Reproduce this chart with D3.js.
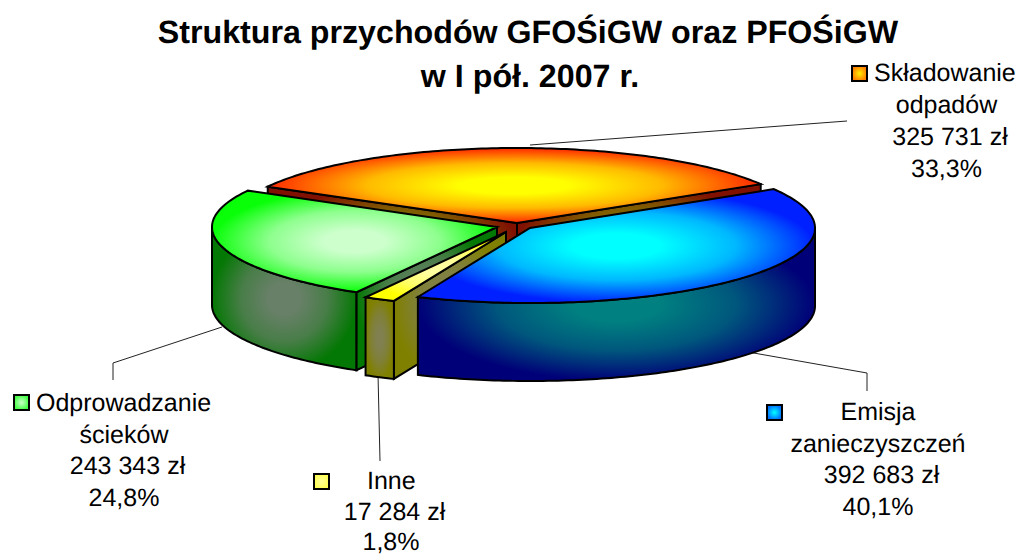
<!DOCTYPE html>
<html><head><meta charset="utf-8">
<script src="https://cdn.jsdelivr.net/npm/d3@7/dist/d3.min.js"></script>
<style>html,body{margin:0;background:#fff}svg{display:block}text{font-family:"Liberation Sans",Arial,sans-serif;fill:#000;text-rendering:geometricPrecision}</style>
</head><body><div id="c"></div>
<script>
const categories = ["Składowanie odpadów","Emisja zanieczyszczeń","Inne","Odprowadzanie ścieków"];
const values = [325731,392683,17284,243343];
const valueLabels = ["325 731 zł","392 683 zł","17 284 zł","243 343 zł"];
const percentLabels = ["33,3%","40,1%","1,8%","24,8%"];
const titleLines = ["Struktura przychodów GFOŚiGW oraz PFOŚiGW","w I pół. 2007 r."];

const W=1020,H=556, cx=517, cy=228, rx=285, ry=75, depth=78;
const rad=d=>d*Math.PI/180;
// per-slice explode offsets
const explode=[[0,-5],[13,0],[-11,4],[-20,-1]];
const topCols=[["#ffff00","#ff2800"],["#00ffff","#0020ff"],["#ffffa0","#ffff00"],["#ccffcc","#08ff08"]];
const sideCols=[["#808000","#801000"],["#008080","#000078"],["#808050","#808000"],["#688068","#047804"]];
const keyCols=[["#ffee00","#ff8000"],["#00ffff","#0070ff"],["#ffff99","#ffff55"],["#ccffcc","#44ff44"]];

const svg=d3.select("#c").append("svg").attr("width",W).attr("height",H);
const defs=svg.append("defs");
function grad(id,c,wide=true){
  const g=defs.append("radialGradient").attr("id",id).attr("cx",.5).attr("cy",.5).attr("r",.5);
  const m=d3.interpolateRgb(c[0],c[1]);
  const stops=wide?[[0,0],[.22,0],[.6,.32],[1,1]]:[[0,0],[1,1]];
  stops.forEach(s=>g.append("stop").attr("offset",s[0]).attr("stop-color",m(s[1])));
  return `url(#${id})`;
}
const pie=d3.pie().sort(null).startAngle(rad(-61)).endAngle(rad(299));
const arcs=pie(values);
const line=d3.line();
function pt(i,a,dz=0){const o=explode[i];return [cx+o[0]+rx*Math.sin(a),cy+o[1]-ry*Math.cos(a)+dz];}
function apex(i,dz=0){const o=explode[i];return [cx+o[0],cy+o[1]+dz];}
function rim(i,a0,a1,dz=0){
  const n=Math.max(2,Math.ceil(Math.abs(a1-a0)/rad(1)));
  return d3.range(n+1).map(k=>pt(i,a0+(a1-a0)*k/n,dz));
}
function draw(d,fill){
  return svg.append("path").attr("d",d).attr("fill",fill).attr("stroke","#000").attr("stroke-width",2).attr("stroke-linejoin","miter");
}
function quad(i,a,suffix){
  draw(line([apex(i),pt(i,a),pt(i,a,depth),apex(i,depth)])+"Z",grad(`s${i}${suffix}`,sideCols[i]));
}
function outer(i,a0,a1){
  if(a1<=a0)return;
  const p=rim(i,a0,a1).concat(rim(i,a1,a0,depth));
  draw(line(p)+"Z",grad(`o${i}`,sideCols[i]));
}
// leader lines (behind the pie)
const leaders=[[[530,145],[847,121]],[[748,352],[867,373],[867,391]],[[378,374],[380,461]],[[222,327],[113,363],[113,380]]];
svg.selectAll("path.leader").data(leaders).join("path").attr("class","leader")
  .attr("d",d=>line(d)).attr("fill","none").attr("stroke","#222").attr("stroke-width",1);

const order=[0,3,2,1];
order.forEach(i=>{
  const a=arcs[i], s=a.startAngle, e=a.endAngle, PI=Math.PI;
  if(i===0){ quad(i,e,"e"); quad(i,s,"s"); }
  if(i===3){ outer(i,s,Math.min(e,1.5*PI)); quad(i,s,"s"); }
  if(i===2){ quad(i,s,"s"); outer(i,s,e); }
  if(i===1){ outer(i,Math.max(s,.5*PI),e); }
  draw(line([apex(i)].concat(rim(i,s,e)))+"Z",grad(`t${i}`,topCols[i]));
});
// title
svg.selectAll("text.title").data(titleLines).join("text").attr("class","title")
  .attr("x",(d,i)=>[528,530][i]).attr("y",(d,i)=>[43,87][i]).attr("text-anchor","middle")
  .attr("font-weight","bold").attr("font-size",32.2).text(d=>d);
// labels: each entry lines, with centres and baselines
const nameLines=[["Składowanie","odpadów"],["Emisja","zanieczyszczeń"],["Inne"],["Odprowadzanie","ścieków"]];
const labelFirst=[{x:874,y:81,a:"start"},{x:878,y:420,a:"middle"},{x:367,y:489,a:"start"},{x:36,y:411,a:"start"}];
const labelCentre=[946.5,878,391,124];
const keyPos=[[852,66],[767,405],[314,474],[14,395]];
const lh=[32,31.7,30.7,31.7];
categories.forEach((c,i)=>{
  const lines=nameLines[i].concat([valueLabels[i],percentLabels[i]]);
  lines.forEach((t,k)=>{
    const isValue=k===lines.length-2;
    svg.append("text").attr("font-size",25)
      .attr("x",k===0?labelFirst[i].x:labelCentre[i]+(isValue?3.5:0)).attr("y",labelFirst[i].y+k*lh[i])
      .attr("text-anchor",k===0?labelFirst[i].a:"middle").text(t);
  });
  svg.append("rect").attr("x",keyPos[i][0]).attr("y",keyPos[i][1]).attr("width",15).attr("height",15)
    .attr("fill",grad(`k${i}`,keyCols[i],false)).attr("stroke","#000").attr("stroke-width",2);
});
</script></body></html>
